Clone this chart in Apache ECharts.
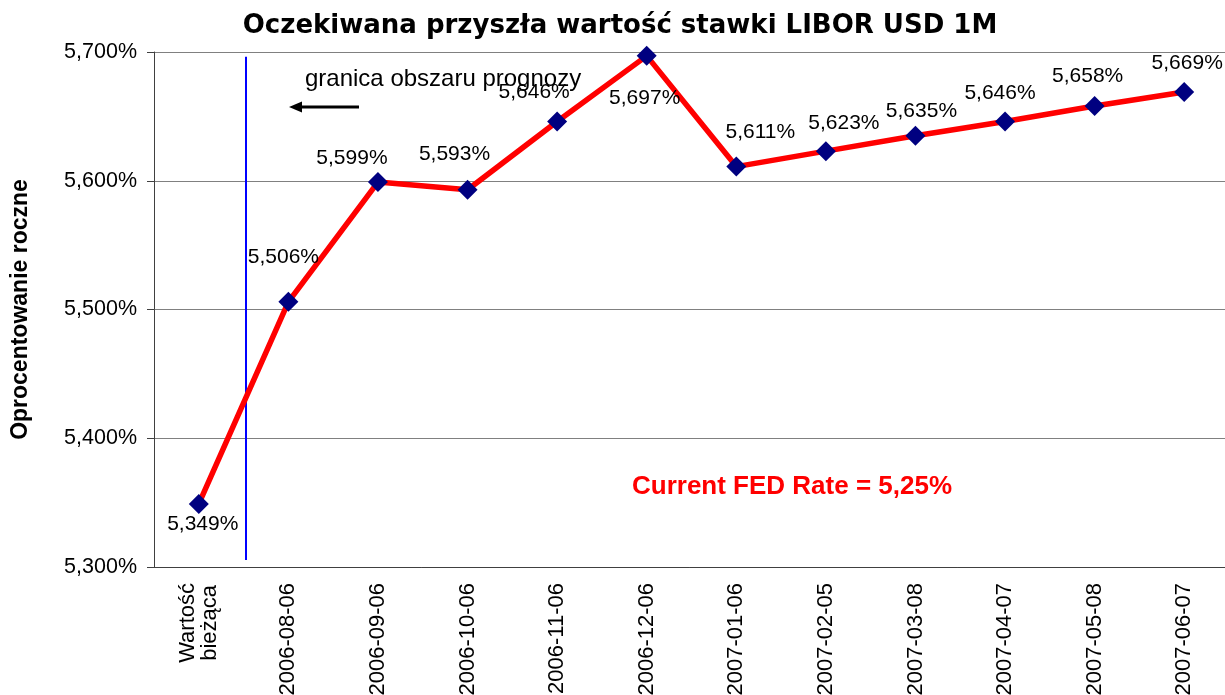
<!DOCTYPE html>
<html>
<head>
<meta charset="utf-8">
<title>LIBOR USD 1M</title>
<script src="https://cdn.jsdelivr.net/npm/echarts@6/dist/echarts.min.js"></script>
<style>
  html, body { margin: 0; padding: 0; background: #fff; }
  #chart { width: 1225px; height: 695px; }
</style>
</head>
<body>
<div id="chart"></div>
<script>
var categories = ["Wartość bieżąca", "2006-08-06", "2006-09-06", "2006-10-06", "2006-11-06", "2006-12-06",
    "2007-01-06", "2007-02-05", "2007-03-08", "2007-04-07", "2007-05-08", "2007-06-07"];
var rates = [5.349, 5.506, 5.599, 5.593, 5.646, 5.697, 5.611, 5.623, 5.635, 5.646, 5.658, 5.669];
var yTicks = { min: 5.3, max: 5.7, step: 0.1 };
// granica obszaru prognozy: pionowa linia miedzy 1. a 2. kategoria
var boundaryX = [0.527, 0.527];
var boundaryY = [5.3054, 5.6964];

// polozenie etykiet (nie dane)
var labelPos = ["bottom", "top", "top", "top", "top", "bottom", "top", "top", "top", "top", "top", "top"];
var labelOff = [[4, -8], [-5, -16], [-26, 5], [-13, -7], [-23, -1], [-2, 14], [24, -6], [18, 1], [6, 4], [-5, 0], [-7, -1], [3, 0]];

function pct(v) {
    return v.toFixed(3).replace(".", ",") + "%";
}

var arial = "Liberation Sans, Arial, sans-serif";

var chart = echarts.init(document.getElementById("chart"));
var option = {
    animation: false,
    title: {
        text: "Oczekiwana przyszła wartość stawki LIBOR USD 1M",
        left: 615,
        textAlign: "center",
        top: 8,
        textStyle: { fontFamily: "DejaVu Sans, Verdana, sans-serif", fontWeight: "bold", fontSize: 26, color: "#000" }
    },
    grid: { left: 154, right: -4, top: 52, bottom: 128, containLabel: false, outerBoundsMode: "none" },
    xAxis: [{
        type: "category",
        data: categories,
        boundaryGap: true,
        axisLine: { lineStyle: { color: "#404040", width: 1 } },
        axisTick: { length: 7, lineStyle: { color: "#404040" } },
        axisLabel: {
            interval: 0,
            rotate: 90,
            margin: 16,
            color: "#000",
            fontFamily: arial,
            fontSize: 22,
            formatter: function (v, i) {
                return i === 0 ? "{c|Wartość}\n{c|bieżąca}" : v;
            },
            rich: { c: { align: "center", fontFamily: arial, fontSize: 22, color: "#000" } }
        },
        splitLine: { show: false }
    }, {
        type: "value",
        min: -0.5,
        max: 11.5,
        show: false
    }],
    yAxis: {
        type: "value",
        min: yTicks.min,
        max: yTicks.max,
        interval: yTicks.step,
        name: "Oprocentowanie roczne",
        nameLocation: "middle",
        nameGap: 122,
        nameTextStyle: { fontFamily: arial, fontWeight: "bold", fontSize: 23, color: "#000" },
        axisLine: { show: true, onZero: false, lineStyle: { color: "#404040", width: 1 } },
        axisTick: { show: true, length: 7, lineStyle: { color: "#404040" } },
        axisLabel: { margin: 17, color: "#000", fontFamily: arial, fontSize: 21.5, formatter: pct },
        splitLine: { lineStyle: { color: "#808080", width: 1 } }
    },
    series: [{
        type: "line",
        xAxisIndex: 1,
        data: [[boundaryX[0], boundaryY[0]], [boundaryX[1], boundaryY[1]]],
        symbol: "none",
        lineStyle: { color: "#0000ff", width: 2 },
        silent: true,
        z: 1
    }, {
        type: "line",
        data: rates.map(function (v, i) {
            return { value: v, label: { position: labelPos[i], offset: labelOff[i] } };
        }),
        symbol: "diamond",
        symbolSize: 20,
        lineStyle: { color: "#ff0000", width: 5.5 },
        itemStyle: { color: "#000080" },
        label: {
            show: true,
            distance: 8,
            color: "#000",
            fontFamily: arial,
            fontSize: 21,
            formatter: function (p) { return pct(p.value); }
        },
        z: 3
    }],
    graphic: [{
        type: "text",
        left: 305,
        top: 67,
        style: { text: "granica obszaru prognozy", fontFamily: arial, fontSize: 24, fill: "#000" }
    }, {
        type: "line",
        shape: { x1: 359, y1: 107, x2: 298, y2: 107 },
        style: { stroke: "#000", lineWidth: 3 }
    }, {
        type: "polygon",
        shape: { points: [[289, 107], [302, 101.5], [302, 112.5]] },
        style: { fill: "#000" }
    }, {
        type: "text",
        left: 632,
        top: 474,
        style: { text: "Current FED Rate = 5,25%", fontFamily: arial, fontWeight: "bold", fontSize: 26, fill: "#ff0000" }
    }]
};
chart.setOption(option);
window.addEventListener("resize", chart.resize);
</script>
</body>
</html>
